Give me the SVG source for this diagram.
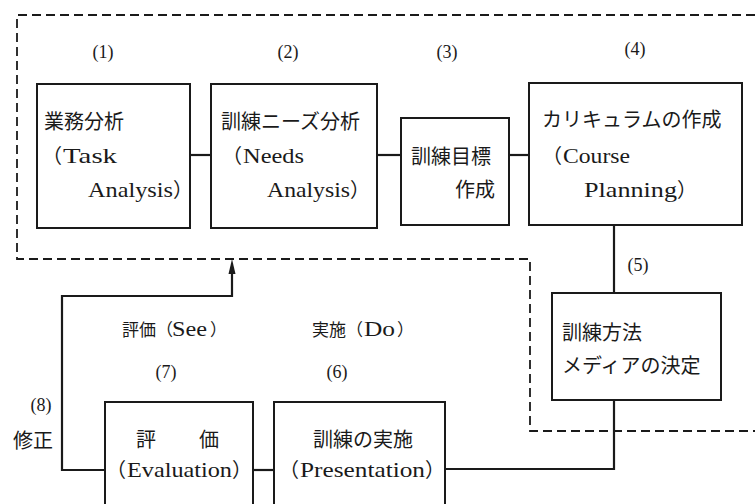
<svg xmlns="http://www.w3.org/2000/svg" width="755" height="504" viewBox="0 0 755 504">
<defs>
<style>
.bg{fill:#ffffff}
.box{fill:#ffffff;stroke:#1a1a1a;stroke-width:2}
.con{fill:none;stroke:#1a1a1a;stroke-width:2.2}
.dash{fill:none;stroke:#1a1a1a;stroke-width:1.8;stroke-dasharray:9 5}
.t{font-family:"Noto Sans CJK JP",sans-serif;font-size:20px;fill:#1a1a1a}
.s{font-family:"Noto Sans CJK JP",sans-serif;font-size:17px;fill:#1a1a1a}
.l{font-family:"Liberation Serif","Times New Roman",serif;font-size:21px}
.n{font-family:"Liberation Serif","Times New Roman",serif;font-size:18px;fill:#1a1a1a;text-anchor:middle}
</style>
</defs>
<rect class="bg" x="0" y="0" width="755" height="504"/>
<g id="boundary">
<path class="dash" d="M755 15 H17 V259 H530 V431 H755"/>
</g>
<g id="connectors">
<path class="con" d="M190 155 H211"/>
<path class="con" d="M377 155 H401"/>
<path class="con" d="M509 155 H529"/>
<path class="con" d="M614 225 V293"/>
<path class="con" d="M614 400 V469 H445"/>
<path class="con" d="M253 470 H274"/>
<path class="con" d="M105 470 H62 V296 H232 V273"/>
<path d="M232 259 L235.5 274 L228.5 274 Z" fill="#1a1a1a"/>
</g>
<g id="node1">
<rect class="box" x="37" y="84" width="153" height="144"/>
<text class="t" x="44" y="129">業務分析</text>
<text class="t" x="42" y="163">（<tspan class="l" x="63" textLength="54" lengthAdjust="spacingAndGlyphs">Task</tspan></text>
<text class="t" y="197"><tspan class="l" x="88" textLength="85" lengthAdjust="spacingAndGlyphs">Analysis</tspan>）</text>
</g>
<g id="node2">
<rect class="box" x="211" y="84" width="166" height="144"/>
<text class="t" x="221" y="129">訓練ニーズ分析</text>
<text class="t" x="222" y="163">（<tspan class="l" x="243" textLength="61" lengthAdjust="spacingAndGlyphs">Needs</tspan></text>
<text class="t" y="197"><tspan class="l" x="267" textLength="83" lengthAdjust="spacingAndGlyphs">Analysis</tspan>）</text>
</g>
<g id="node3">
<rect class="box" x="401" y="118" width="108" height="107"/>
<text class="t" x="411" y="164">訓練目標</text>
<text class="t" x="455" y="197">作成</text>
</g>
<g id="node4">
<rect class="box" x="529" y="83" width="213" height="142"/>
<text class="t" x="542" y="127">カリキュラムの作成</text>
<text class="t" x="542" y="163">（<tspan class="l" x="563" textLength="67" lengthAdjust="spacingAndGlyphs">Course</tspan></text>
<text class="t" y="197"><tspan class="l" x="584" textLength="93" lengthAdjust="spacingAndGlyphs">Planning</tspan>）</text>
</g>
<g id="node5">
<rect class="box" x="552" y="293" width="169" height="107"/>
<text class="t" x="562" y="340">訓練方法</text>
<text class="t" x="562" y="373">メディアの決定</text>
</g>
<g id="node6">
<rect class="box" x="274" y="402" width="171" height="110"/>
<text class="t" x="313" y="447">訓練の実施</text>
<text class="t" x="279" y="477">（<tspan class="l" x="300" textLength="125" lengthAdjust="spacingAndGlyphs">Presentation</tspan>）</text>
</g>
<g id="node7">
<rect class="box" x="105" y="402" width="148" height="110"/>
<text class="t" x="136" y="447" letter-spacing="1">評　　価</text>
<text class="t" x="106" y="477">（<tspan class="l" x="127" textLength="105" lengthAdjust="spacingAndGlyphs">Evaluation</tspan>）</text>
</g>
<g id="labels">
<text class="n" x="103" y="58">(1)</text>
<text class="n" x="288" y="58">(2)</text>
<text class="n" x="447" y="58">(3)</text>
<text class="n" x="635" y="55">(4)</text>
<text class="n" x="638" y="271">(5)</text>
<text class="n" x="337" y="378">(6)</text>
<text class="n" x="166" y="378">(7)</text>
<text class="n" x="41" y="411">(8)</text>
<text class="t" x="13" y="448">修正</text>
<text class="s" x="122" y="336">評価<tspan x="156">（</tspan><tspan class="l" x="172" textLength="35" lengthAdjust="spacingAndGlyphs">See</tspan><tspan x="210">）</tspan></text>
<text class="s" x="312" y="336">実施<tspan x="346">（</tspan><tspan class="l" x="364" textLength="31" lengthAdjust="spacingAndGlyphs">Do</tspan><tspan x="397">）</tspan></text>
</g>
</svg>
